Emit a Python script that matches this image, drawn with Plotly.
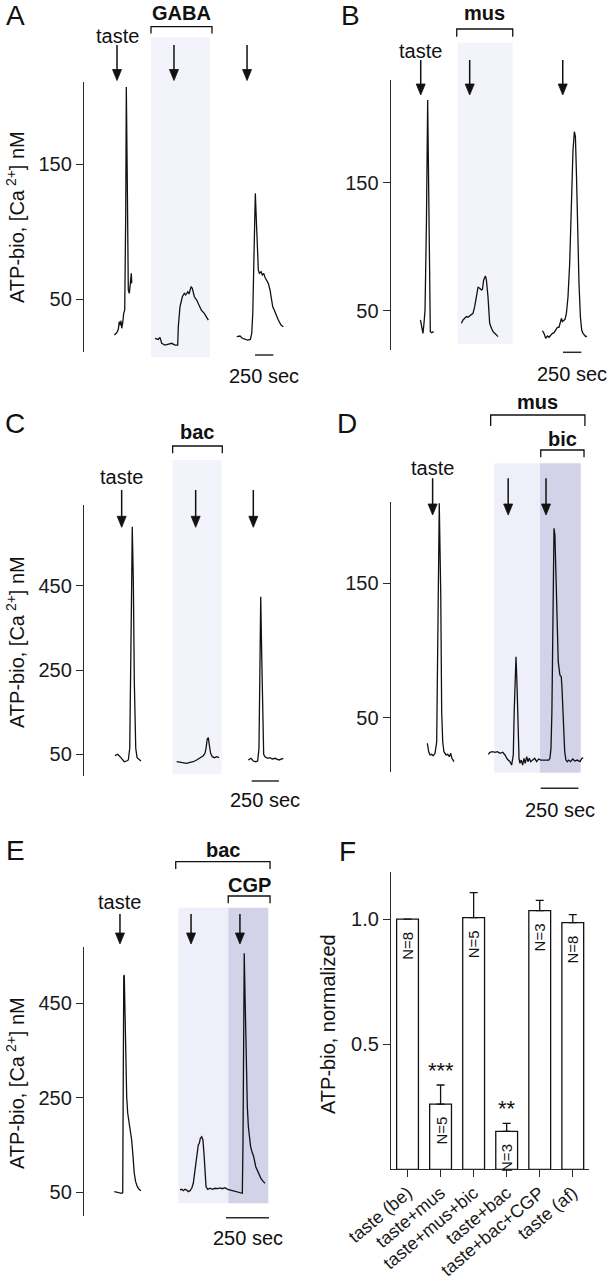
import plotly.graph_objects as go

W, H = 608, 1280
FONT = "Liberation Sans, Arial, Helvetica, sans-serif"
INK = "#111111"
AXC = "#2b2b2b"
LIGHT_ABC = "#f3f3fc"
LIGHT = "#efeff9"
DARK = "#d2d2e8"

# ---------------- DATA ----------------
# Panel A (time s, ATP-bio [Ca2+] nM)
A_t1 = [414, 447, 469, 482, 496, 505, 515, 529, 542, 556, 570, 578, 591, 605, 619, 632, 646, 652]
A_v1 = [23.6, 25.3, 27.8, 33.5, 31, 34.2, 28.6, 32.7, 39.6, 42, 113.6, 207, 138.2, 56.9, 54.4, 64.3, 69.2, 61.8]
A_t2 = [970, 1015, 1038, 1061, 1106, 1152, 1198, 1243, 1280, 1288, 1311, 1343, 1370, 1389, 1417, 1434, 1462, 1479,
        1507, 1539, 1571, 1603, 1643, 1676, 1698]
A_v2 = [21.2, 20.4, 21.9, 17.5, 16.2, 16.7, 17.5, 16.2, 16.2, 29.7, 44.5, 51.9, 54.4, 53.2, 55.6, 53.9, 59.3, 58.1,
        51.9, 49.5, 45.8, 42, 39.6, 35.9, 34.7]
A_t3 = [2086, 2131, 2162, 2199, 2236, 2272, 2291, 2305, 2318, 2332, 2340, 2354, 2367, 2381, 2395, 2418, 2436, 2455,
        2472, 2496, 2518, 2541, 2564, 2578, 2600, 2632, 2654, 2691, 2722]
A_v3 = [22.4, 22.9, 21.2, 20.4, 19.9, 20.4, 24.9, 39.6, 76.6, 113.6, 128.3, 108.6, 84, 71.7, 69.2, 70.4, 68, 69.2,
        66.3, 64.3, 61.8, 56.9, 48.2, 44.5, 42, 37.1, 34.7, 31, 29.8]
A_arrows = [451, 1229, 2227]
A_shade = [915, 1721]
A_bracket = [915, 1748]
A_scale = [2336, 2586]

# Panel B
B_t1 = [406, 423, 441, 455, 469, 488, 505, 519, 533, 541, 560, 587]
B_v1 = [43, 37.8, 32.6, 40.4, 50.8, 118.4, 214.5, 144.3, 45.6, 33.9, 33.1, 33.9]
B_t2 = [966, 988, 1011, 1034, 1056, 1079, 1102, 1124, 1147, 1171, 1193, 1216, 1239, 1253, 1270, 1294, 1307, 1329,
        1352, 1376, 1398, 1421, 1444, 1466]
B_v2 = [40.4, 43, 44.3, 45.6, 45.1, 46.1, 46.9, 48.2, 53.4, 61.1, 68.5, 67.7, 66.4, 66.9, 74.2, 77.3, 74.2, 61.1,
        40.4, 36.5, 33.9, 32.6, 31.3, 30]
B_t3 = [2072, 2094, 2117, 2141, 2162, 2186, 2209, 2231, 2254, 2277, 2299, 2318, 2332, 2345, 2363, 2381, 2400, 2422,
        2445, 2468, 2490, 2509, 2523, 2537, 2554, 2572, 2591, 2609, 2627, 2646, 2664, 2681]
B_v3 = [34.6, 32.6, 28.7, 30.5, 29.5, 31.3, 32.6, 33.1, 35.2, 37.3, 37.3, 40.4, 44.3, 41.7, 43, 43.5, 48.2, 61.1,
        87.2, 131.3, 175.5, 189.8, 185.9, 157.3, 110.6, 71.6, 45.6, 35.2, 32.6, 31.3, 30, 30.5]
B_arrows = [410, 1079, 2350]
B_shade = [915, 1667]
B_bracket = [902, 1667]
B_scale = [2354, 2604]

# Panel C
C_t1 = [284, 309, 330, 351, 369, 391, 406, 419, 428, 437, 442, 452, 461, 474, 486, 497, 513, 522]
C_v1 = [46.7, 50, 44.3, 36.5, 32.4, 34.1, 36.5, 64.2, 222.2, 459.5, 590, 459.5, 222.2, 64.2, 42, 38.9, 34.1, 34.1]
C_t2 = [849, 879, 910, 941, 971, 1001, 1032, 1063, 1078, 1093, 1108, 1118, 1129, 1139, 1148, 1160, 1175, 1194,
        1216, 1237]
C_v2 = [32.4, 30.8, 28.6, 28.6, 30.8, 32.4, 36.5, 42, 44.3, 46.7, 52.4, 64.2, 86.3, 89.5, 72.1, 52.4, 44.3, 42,
        44.3, 42]
C_t3 = [1505, 1530, 1551, 1573, 1591, 1603, 1612, 1619, 1628, 1637, 1646, 1658, 1683, 1704, 1725, 1750, 1774,
        1786, 1826]
C_v3 = [36.5, 40.5, 34.1, 32.4, 34.1, 64.2, 262.1, 424, 285.6, 103.6, 50, 44.3, 40.5, 42, 38.9, 40.5, 36.5,
        36.5, 40.5]
C_arrows = [345, 1023, 1551]
C_shade = [812, 1261]
C_bracket = [812, 1267]
C_scale = [1536, 1786]

# Panel D
D_t1 = [243, 252, 261, 272, 282, 294, 305, 314, 322, 332, 338, 345, 353, 367, 378, 389, 398, 406, 420]
D_v1 = [31, 24.7, 22.3, 22.8, 21.7, 23.5, 32.1, 116.5, 209.5, 141.3, 54.5, 32.1, 24.7, 22.3, 22.8, 21, 23.5,
        19.8, 17.3]
D_t2 = [647, 658, 676, 692, 707, 725, 743, 758, 773, 791, 802, 813, 819, 826, 831, 837, 844, 851, 857, 866,
        875, 884, 892, 902, 910, 919, 928, 941, 955, 968, 981, 995, 1012, 1030, 1048, 1056, 1063, 1069, 1074, 1078,
        1083, 1089, 1096, 1103, 1111, 1122, 1131, 1136, 1144, 1154, 1162, 1171, 1180, 1193, 1207, 1222, 1237,
        1255, 1268, 1277]
D_v2 = [22.8, 24.3, 24.7, 24.3, 24.7, 23.5, 24.3, 22.3, 19.3, 17.3, 14.8, 22.3, 54.5, 86.8, 95.4, 76.8, 42.1,
        19.8, 16.1, 18.5, 14.8, 19.8, 16.1, 21, 17.3, 19.8, 17.3, 18.5, 19.8, 17.3, 19.3, 18.5, 18.5, 18, 18.5,
        19.8, 27.2, 54.5, 91.7, 141.3, 190.9, 185.9, 153.7, 116.5, 91.7, 81.8, 80.5, 71.9, 47, 24.7, 18.5, 17.3,
        18.5, 17.3, 19.3, 17.8, 18.5, 17.3, 19.8, 20.2]
D_arrows = [278, 779, 1030]
D_mus_shade = [687, 990]
D_bic_shade = [990, 1260]
D_mus_bracket = [663, 1288]
D_bic_bracket = [995, 1282]
D_scale = [995, 1245]

# Panel E
E_t1 = [176, 190, 203, 219, 225, 227, 231, 234, 238, 242, 248, 254, 261, 269, 277, 285, 292, 300, 310, 320, 331]
E_v1 = [51.3, 50, 49.2, 47.9, 49.2, 301.9, 506.3, 509.9, 435.8, 337, 252.3, 217.2, 199.4, 188.8, 160.7, 125.4,
        90.2, 72.5, 61.9, 56.3, 53.4]
E_t2 = [558, 568, 577, 587, 597, 606, 616, 626, 635, 645, 655, 664, 670, 676, 684, 691, 697, 703, 709, 719,
        732, 745, 761, 777, 790, 804, 819, 835, 848, 867, 887, 906, 920, 924, 928, 931, 935, 941, 949, 955,
        960, 968, 976, 986, 998, 1013, 1028, 1042, 1052]
E_v2 = [54.9, 56.3, 53.4, 56.3, 54.9, 51.3, 53.4, 58.5, 69, 97.2, 132.5, 150.1, 153.7, 164.3, 167.7, 160.7, 132.5,
        90.2, 61.9, 56.3, 58.5, 56.3, 58.5, 57.6, 59.1, 57.6, 59.8, 56.3, 54.9, 53.4, 51.3, 49.2, 47.9, 160.7,
        372.3, 555.8, 478.1, 337, 231.2, 188.8, 167.7, 146.5, 135.9, 125.4, 104.2, 90.2, 79.6, 72.5, 69]
E_arrows = [209, 622, 906]
E_bac_shade = [548, 838]
E_cgp_shade = [838, 1071]
E_bac_bracket = [533, 1081]
E_cgp_bracket = [838, 1081]
E_scale = [825, 1075]

# Panel F
F_cats = ["taste (be)", "taste+mus", "taste+mus+bic", "taste+bac", "taste+bac+CGP", "taste (af)"]
F_vals = [1.0, 0.261, 1.006, 0.152, 1.034, 0.986]
F_err = [0.0, 0.076, 0.10, 0.032, 0.041, 0.032]
F_n = ["N=8", "N=5", "N=5", "N=3", "N=3", "N=8"]
F_sig = ["", "***", "", "**", "", ""]


# ---------------- HELPERS ----------------
def px(x):
    return x / W


def py(y):
    return 1 - y / H


layout = dict(
    width=W, height=H, autosize=False,
    margin=dict(l=0, r=0, t=0, b=0, pad=0),
    paper_bgcolor="white", plot_bgcolor="rgba(0,0,0,0)",
    font=dict(family=FONT, size=20, color="#1a1a1a"),
    showlegend=False,
)
shapes = []
annotations = []
fig = go.Figure()


def yaxis_style(**kw):
    d = dict(showline=True, linecolor=AXC, linewidth=1.3, ticks="outside", ticklen=7, tickwidth=1.3,
             tickcolor=AXC, showgrid=False, zeroline=False, fixedrange=True, automargin=False,
             tickfont=dict(family=FONT, size=20, color="#1a1a1a"))
    d.update(kw)
    return d


def trace_panel(n, xdom, ydom, xr, yr, ticks, segments):
    sx = "" if n == 1 else str(n)
    layout["xaxis" + sx] = dict(domain=[px(xdom[0]), px(xdom[1])], range=list(xr), visible=False,
                                anchor="y" + sx, fixedrange=True, automargin=False)
    layout["yaxis" + sx] = yaxis_style(domain=[py(ydom[1]), py(ydom[0])], range=list(yr),
                                       anchor="x" + sx, tickvals=ticks)
    for t, v in segments:
        fig.add_trace(go.Scatter(x=t, y=v, mode="lines", line=dict(color=INK, width=1.3),
                                 xaxis="x" + sx, yaxis="y" + sx, hoverinfo="skip"))
    return "x" + sx


def shade(xref, win, ytop, ybot, color):
    shapes.append(dict(type="rect", xref=xref, yref="paper", x0=win[0], x1=win[1], y0=py(ybot), y1=py(ytop),
                       fillcolor=color, line=dict(width=0), layer="below"))


def bracket(xref, win, ytop, ybot):
    path = f"M{win[0]},{py(ybot)} L{win[0]},{py(ytop)} L{win[1]},{py(ytop)} L{win[1]},{py(ybot)}"
    shapes.append(dict(type="path", xref=xref, yref="paper", path=path, line=dict(color=INK, width=1.3)))


HEAD_L, HEAD_W = 11, 9


def arrows(xref, times, ytail, ytip):
    for t in times:
        shapes.append(dict(type="line", xref=xref, yref="paper", x0=t, x1=t, y0=py(ytail),
                           y1=py(ytip - HEAD_L + 1), line=dict(color=INK, width=1.5)))
        shapes.append(dict(type="path", xref=xref, yref="paper", xsizemode="pixel", ysizemode="pixel",
                           xanchor=t, yanchor=py(ytip),
                           path=f"M{-HEAD_W / 2},{HEAD_L} L{HEAD_W / 2},{HEAD_L} L0,0 Z",
                           fillcolor=INK, line=dict(color=INK, width=0.8)))


def label(text, xref, x, y, size=20, bold=False, angle=0):
    annotations.append(dict(xref=xref, yref="paper", x=x, y=py(y), text=f"<b>{text}</b>" if bold else text,
                            showarrow=False, xanchor="center", yanchor="middle", textangle=angle,
                            font=dict(family=FONT, size=size, color=INK)))


def scalebar(xref, win, ybar, ytext):
    shapes.append(dict(type="line", xref=xref, yref="paper", x0=win[0], x1=win[1], y0=py(ybar), y1=py(ybar),
                       line=dict(color=AXC, width=1.5)))
    label(f"{win[1] - win[0]:.0f} sec", xref, (win[0] + win[1]) / 2, ytext)


# ---------------- PANEL A ----------------
xa = trace_panel(1, (84, 295), (82.3, 351.7), (0, 2882), (11.3, 210.4), [50, 150],
                 [(A_t1, A_v1), (A_t2, A_v2), (A_t3, A_v3)])
shade(xa, A_shade, 37.3, 357.3, LIGHT_ABC)
bracket(xa, A_bracket, 26.7, 33.5)
arrows(xa, A_arrows, 45, 80.5)
label("taste", xa, A_arrows[0], 36)
label("GABA", xa, sum(A_bracket) / 2, 12.5, bold=True)
scalebar(xa, A_scale, 355, 376)

# ---------------- PANEL B ----------------
xb = trace_panel(2, (390.7, 600), (80, 350), (0, 2859), (19.6, 230), [50, 150],
                 [(B_t1, B_v1), (B_t2, B_v2), (B_t3, B_v3)])
shade(xb, B_shade, 42.7, 344, LIGHT_ABC)
bracket(xb, B_bracket, 29, 36.7)
arrows(xb, B_arrows, 60, 95)
label("taste", xb, B_arrows[0], 51)
label("mus", xb, sum(B_bracket) / 2, 13, bold=True)
scalebar(xb, B_scale, 352.3, 374)

# ---------------- PANEL C ----------------
xc = trace_panel(3, (84, 295), (505, 776), (0, 1933), (-1.5, 641.5), [50, 250, 450],
                 [(C_t1, C_v1), (C_t2, C_v2), (C_t3, C_v3)])
shade(xc, C_shade, 460, 774.3, LIGHT_ABC)
bracket(xc, C_bracket, 446, 453.3)
arrows(xc, C_arrows, 490, 527.3)
label("taste", xc, C_arrows[0], 477)
label("bac", xc, sum(C_bracket) / 2, 432, bold=True)
scalebar(xc, C_scale, 781, 800)

# ---------------- PANEL D ----------------
xd = trace_panel(4, (390.7, 600), (501.7, 772.3), (0, 1388), (9.4, 210.7), [50, 150],
                 [(D_t1, D_v1), (D_t2, D_v2)])
shade(xd, D_mus_shade, 463.3, 772.7, LIGHT)
shade(xd, D_bic_shade, 463.3, 772.7, DARK)
bracket(xd, D_mus_bracket, 415, 426)
bracket(xd, D_bic_bracket, 450, 457.3)
arrows(xd, D_arrows, 478.3, 515)
label("taste", xd, D_arrows[0], 468)
label("mus", xd, sum(D_mus_bracket) / 2, 402, bold=True)
label("bic", xd, sum(D_bic_bracket) / 2, 439, bold=True)
scalebar(xd, D_scale, 788.3, 810)

# ---------------- PANEL E ----------------
xe = trace_panel(5, (84, 295), (946.7, 1216), (0, 1226), (-0.2, 569.8), [50, 250, 450],
                 [(E_t1, E_v1), (E_t2, E_v2)])
shade(xe, E_bac_shade, 907.7, 1203.3, LIGHT)
shade(xe, E_cgp_shade, 907.7, 1203.3, DARK)
bracket(xe, E_bac_bracket, 861.7, 869)
bracket(xe, E_cgp_bracket, 896, 903.3)
arrows(xe, E_arrows, 914, 944)
label("taste", xe, E_arrows[0], 902)
label("bac", xe, sum(E_bac_bracket) / 2, 850, bold=True)
label("CGP", xe, sum(E_cgp_bracket) / 2, 885, bold=True)
scalebar(xe, E_scale, 1217.7, 1237.5)

# ---------------- PANEL F ----------------
layout["xaxis6"] = dict(domain=[px(391), px(589.3)], type="category", range=[-0.5, 5.5], anchor="y6",
                        showline=True, linecolor=AXC, linewidth=1.3, ticks="outside", ticklen=7,
                        tickwidth=1.3, tickcolor=AXC, tickangle=-40, ticklabelstandoff=-2,
                        showgrid=False, zeroline=False, fixedrange=True, automargin=False,
                        tickfont=dict(family=FONT, size=18, color="#1a1a1a"))
layout["yaxis6"] = yaxis_style(domain=[py(1169.3), py(871.7)], range=[0, 1.19], anchor="x6",
                               tickvals=[0.5, 1.0], tickformat=".1f")
fig.add_trace(go.Bar(
    x=F_cats, y=F_vals, width=0.66, xaxis="x6", yaxis="y6",
    marker=dict(color="white", line=dict(color=INK, width=1.3)),
    error_y=dict(type="data", array=F_err, arrayminus=[0] * len(F_err), symmetric=False,
                 color=INK, thickness=1.3, width=4),
    hoverinfo="skip",
))
for c, v, n_txt in zip(F_cats, F_vals, F_n):
    annotations.append(dict(xref="x6", yref="y6", x=c, y=v, text=n_txt, showarrow=False, textangle=-90,
                            xanchor="center", yanchor="top", yshift=-11,
                            font=dict(family=FONT, size=15, color=INK)))
for c, v, e, s in zip(F_cats, F_vals, F_err, F_sig):
    if s:
        annotations.append(dict(xref="x6", yref="y6", x=c, y=v + e, text=s, showarrow=False,
                                xanchor="center", yanchor="bottom", yshift=0,
                                font=dict(family=FONT, size=22, color=INK)))

# ---------------- AXIS TITLES & PANEL LETTERS ----------------
ca_title = "ATP-bio, [Ca<sup> 2+</sup>] nM"
label(ca_title, "paper", px(15), 217, angle=-90)
label(ca_title, "paper", px(15), 642, angle=-90)
label(ca_title, "paper", px(15), 1083, angle=-90)
label("ATP-bio, normalized", "paper", px(328), 1024, angle=-90)

for letter, lx, ly in [("A", 15, 15), ("B", 350, 15), ("C", 15, 423), ("D", 347, 423),
                       ("E", 15, 850), ("F", 347, 851)]:
    label(letter, "paper", px(lx), ly, size=28)

layout["shapes"] = shapes
layout["annotations"] = annotations
fig.update_layout(**layout)
fig.write_html("out.html", config={"displayModeBar": False},
               post_script="document.body.style.margin='0';document.body.style.padding='0';")
